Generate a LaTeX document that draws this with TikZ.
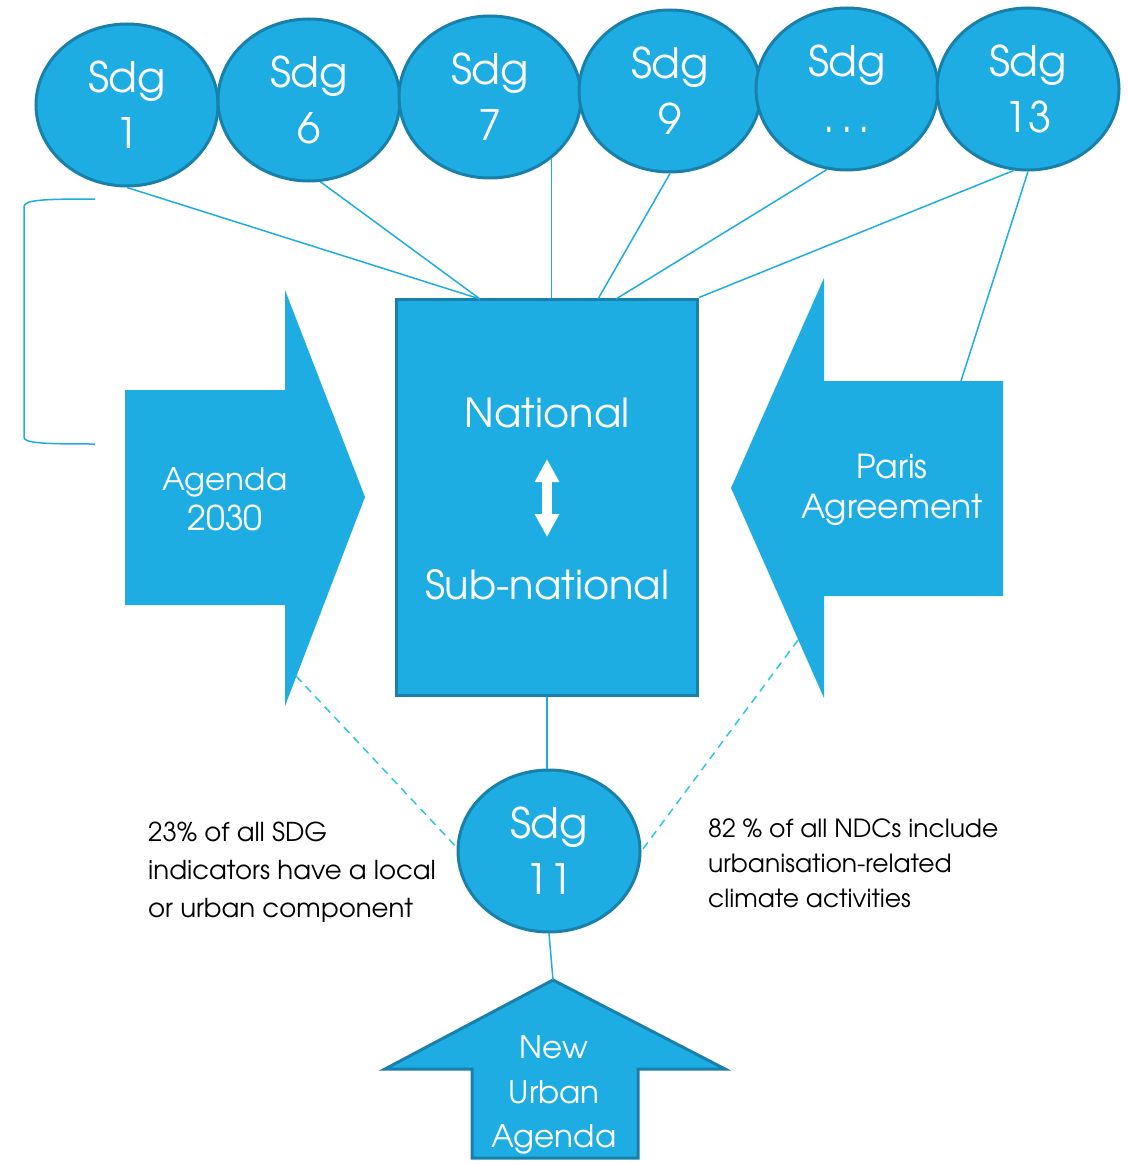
\documentclass[tikz,border=0pt]{standalone}
\usepackage{fontspec}
\setmainfont{TeX Gyre Adventor}
\usetikzlibrary{shapes.geometric,arrows.meta}
\definecolor{sdgblue}{RGB}{30,173,227}
\definecolor{sdgedge}{RGB}{24,128,170}
\definecolor{dashcyan}{RGB}{45,200,215}
\tikzset{
	sdg/.style={ellipse, draw=sdgedge, line width=3pt, fill=sdgblue, minimum width=182pt, minimum height=162pt, inner sep=0pt, text=white, align=center, font=\fontsize{42}{56}\selectfont},
	link/.style={sdgblue, line width=1.5pt},
	dashlink/.style={dashcyan, line width=1.5pt, dash pattern=on 8pt off 6pt},
	shapetext/.style={text=white, align=center, inner sep=0pt},
	note/.style={align=left, inner sep=0pt, anchor=west}
}
\begin{document}
\begin{tikzpicture}[x=1pt,y=-1pt]
				\useasboundingbox (0,0) rectangle (1128,1164);

				\draw [link] (95,199) .. controls (40,199) and (24,200) .. (24,207) -- (24,437) .. controls (24,443) and (40,444) .. (95,444);

				\coordinate (agtip) at (296,676);
				\coordinate (patip) at (798,640);
				\draw [dashlink] (agtip) -- (460,851);
				\draw [dashlink] (patip) -- (640,853);

				\fill [sdgblue] (125,390) -- (285,390) -- (285,290) -- (365,497) -- (285,706) -- (285,605) -- (125,605) -- cycle;
				\fill [sdgblue] (1003,381) -- (824,381) -- (824,278) -- (731,488) -- (824,698) -- (824,596) -- (1003,596) -- cycle;
				\filldraw [fill=sdgblue, draw=sdgedge, line width=3pt, line join=miter] (553,980) -- (725,1069) -- (638,1069) -- (638,1158) -- (472,1158) -- (472,1069) -- (385,1069) -- cycle;
				\coordinate (nuatip) at (553,980);
				\coordinate (paristop) at (961,381);

				\node [shapetext, font=\fontsize{31}{40}\selectfont] (agenda) at (225,499) {Agenda\\{\fontsize{34}{40}\selectfont 2030}};
				\node [shapetext, font=\fontsize{33}{40}\selectfont] (paris) at (892,490) {Paris\\Agreement};
				\node [shapetext, font=\fontsize{31}{44.5}\selectfont] (nua) at (554,1095) {New\\Urban\\Agenda};

				\node [draw=sdgedge, line width=3pt, fill=sdgblue, minimum width=301pt, minimum height=396pt, inner sep=0pt] (natl) at (547,497) {};
				\node [shapetext, font=\fontsize{40}{48}\selectfont] (national) at (547,413) {National};
				\node [shapetext, font=\fontsize{40}{48}\selectfont] (subnational) at (547,585) {Sub-national};
				\coordinate (up) at (547,459);
				\coordinate (down) at (547,537);
				\draw [white, line width=10pt, {Triangle[length=23pt,width=23pt]}-{Triangle[length=23pt,width=23pt]}] (up) -- (down);

				\node [sdg] (sdg1) at (127,105) {Sdg\\1};
				\node [sdg] (sdg6) at (309,100) {Sdg\\6};
				\node [sdg] (sdg7) at (490,97) {Sdg\\7};
				\node [sdg] (sdg9) at (670,91) {Sdg\\9};
				\node [sdg] (sdgdots) at (847,89) {Sdg\\.\hspace{6pt}.\hspace{6pt}.};
				\node [sdg] (sdg13) at (1028,89) {Sdg\\13};
				\node [sdg] (sdg11) at (549,851) {Sdg\\11};

				\coordinate (top1) at (480,299);
				\coordinate (top9) at (598,299);
				\coordinate (topdots) at (616,299);
				\draw [link] (sdg1.south) -- (top1);
				\draw [link] (sdg6.-82) -- (top1);
				\draw [link] (sdg7.-45) -- (sdg7.-45 |- natl.north);
				\draw [link] (sdg9.south) -- (top9);
				\draw [link] (sdgdots.-104) -- (topdots);
				\draw [link] (sdg13.-100) -- (natl.north east);
				\draw [link] (sdg13.south) -- (paristop);
				\draw [link] (natl.south) -- (natl.south |- sdg11.north);
				\draw [link] (sdg11.south) -- (nuatip);

				\node [note, font=\fontsize{26}{38}\selectfont] (left note) at (148,872) {23\% of all SDG\\indicators have a local\\or urban component};
				\node [note, font=\fontsize{25}{35}\selectfont] (right note) at (708,863) {82 \% of all NDCs include\\urbanisation-related\\climate activities};
\end{tikzpicture}
\end{document}
